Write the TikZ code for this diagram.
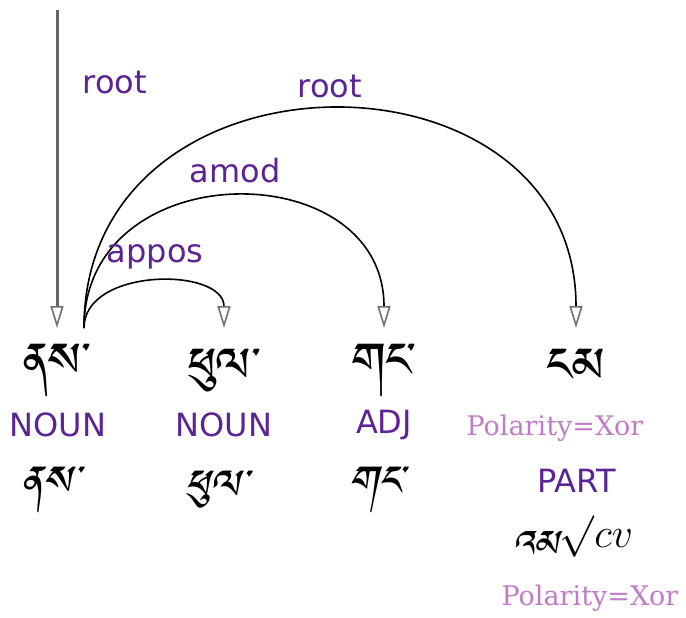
\documentclass[tikz,border=0pt]{standalone}
\usepackage{fontspec}
\usetikzlibrary{arrows.meta}
\newfontfamily\labelfont{DejaVu Sans}
\newfontfamily\featfont{DejaVu Serif}
% Tibetan script: first installed family wins
\IfFontExistsTF{Tibetan Machine Uni}{%
  \newfontfamily\tibfont[Script=Tibetan]{Tibetan Machine Uni}%
  \newfontfamily\tibslant[Script=Tibetan,FakeSlant=0.2]{Tibetan Machine Uni}}{%
\IfFontExistsTF{Jomolhari}{%
  \newfontfamily\tibfont[Script=Tibetan]{Jomolhari}%
  \newfontfamily\tibslant[Script=Tibetan,FakeSlant=0.2]{Jomolhari}}{%
\IfFontExistsTF{Noto Serif Tibetan}{%
  \newfontfamily\tibfont[Script=Tibetan]{Noto Serif Tibetan}%
  \newfontfamily\tibslant[Script=Tibetan,FakeSlant=0.2]{Noto Serif Tibetan}}{%
  \newfontfamily\tibfont{DejaVu Sans}%
  \newfontfamily\tibslant[FakeSlant=0.2]{DejaVu Sans}}}}
\definecolor{relpurple}{HTML}{5B2393}
\definecolor{featpink}{HTML}{C27BC8}
\definecolor{tipgray}{HTML}{707070}
\definecolor{rootgray}{HTML}{666666}
\newcommand\deplab{\labelfont\fontsize{16}{19}\selectfont}
\newcommand\featlab{\featfont\fontsize{13.5}{16}\selectfont}
\newcommand\formlab{\tibfont\fontsize{30}{34}\selectfont}
\newcommand\lemmalab{\tibslant\fontsize{26}{30}\selectfont}
\begin{document}
\begin{tikzpicture}[x=0.5pt,y=-0.5pt,
  every node/.style={inner sep=0pt, anchor=center},
  deprel/.style={font=\deplab, text=relpurple},
  upos/.style={font=\deplab, text=relpurple},
  feat/.style={font=\featlab, text=featpink},
  form/.style={font=\formlab},
  lemma/.style={font=\lemmalab},
  arctip/.style={-{Triangle[open, length=11pt, width=6.5pt, color=tipgray, line width=0.8pt]}},
  deparc/.style={draw=black, line width=0.8pt, arctip},
  rootarrow/.style={draw=rootgray, line width=1.5pt, arctip}]
\useasboundingbox (0,0) rectangle (686,617);

% word forms
\node[form] (w1) at (57,371) {ནས་};
\node[form] (w2) at (224,371) {ཕུལ་};
\node[form] (w3) at (384,371) {གང་};
\node[form] (w4) at (576,371) {ངམ};

% part-of-speech row
\node[upos] (p1) at (58,425) {NOUN};
\node[upos] (p2) at (224,425) {NOUN};
\node[upos] (p3) at (384,425) {ADJ};
\node[feat] (f4) at (555,428) {Polarity=Xor};

% lemma row
\node[lemma] (l1) at (49,490) {ནས་};
\node[lemma] (l2) at (215,490) {ཕུལ་};
\node[lemma] (l3) at (375,490) {གང་};
\node[upos] (p4) at (577,481) {PART};
\node[lemma, anchor=base] (l4) at (572,547)
  {\raisebox{-9pt}[0pt][0pt]{\fontsize{23}{26}\selectfont འམ}\hspace{1pt}{\fontsize{20.74}{24}\selectfont$\surd cv$}};
\node[feat] (g4) at (590,598) {Polarity=Xor};

% arc end points above the words
\coordinate (top) at (57,10);
\coordinate (in1) at (57,328);
\coordinate (out1) at (84,328);
\coordinate (in2) at (224,328);
\coordinate (in3) at (384,328);
\coordinate (in4) at (576,328);

% dependency arcs
\draw[rootarrow] (top) -- (in1);
\draw[deparc] (out1) .. controls +(0,-61) and +(0,-61) .. (in2);
\draw[deparc] (out1) .. controls +(0,-175) and +(0,-175) .. (in3);
\draw[deparc] (out1) .. controls +(0,-291) and +(0,-291) .. (in4);

% relation labels
\node[deprel] (r0) at (115,82) {root};
\node[deprel] (r1) at (155,257) {appos};
\node[deprel] (r2) at (235,171) {amod};
\node[deprel] (r3) at (330,86) {root};
\end{tikzpicture}
\end{document}
